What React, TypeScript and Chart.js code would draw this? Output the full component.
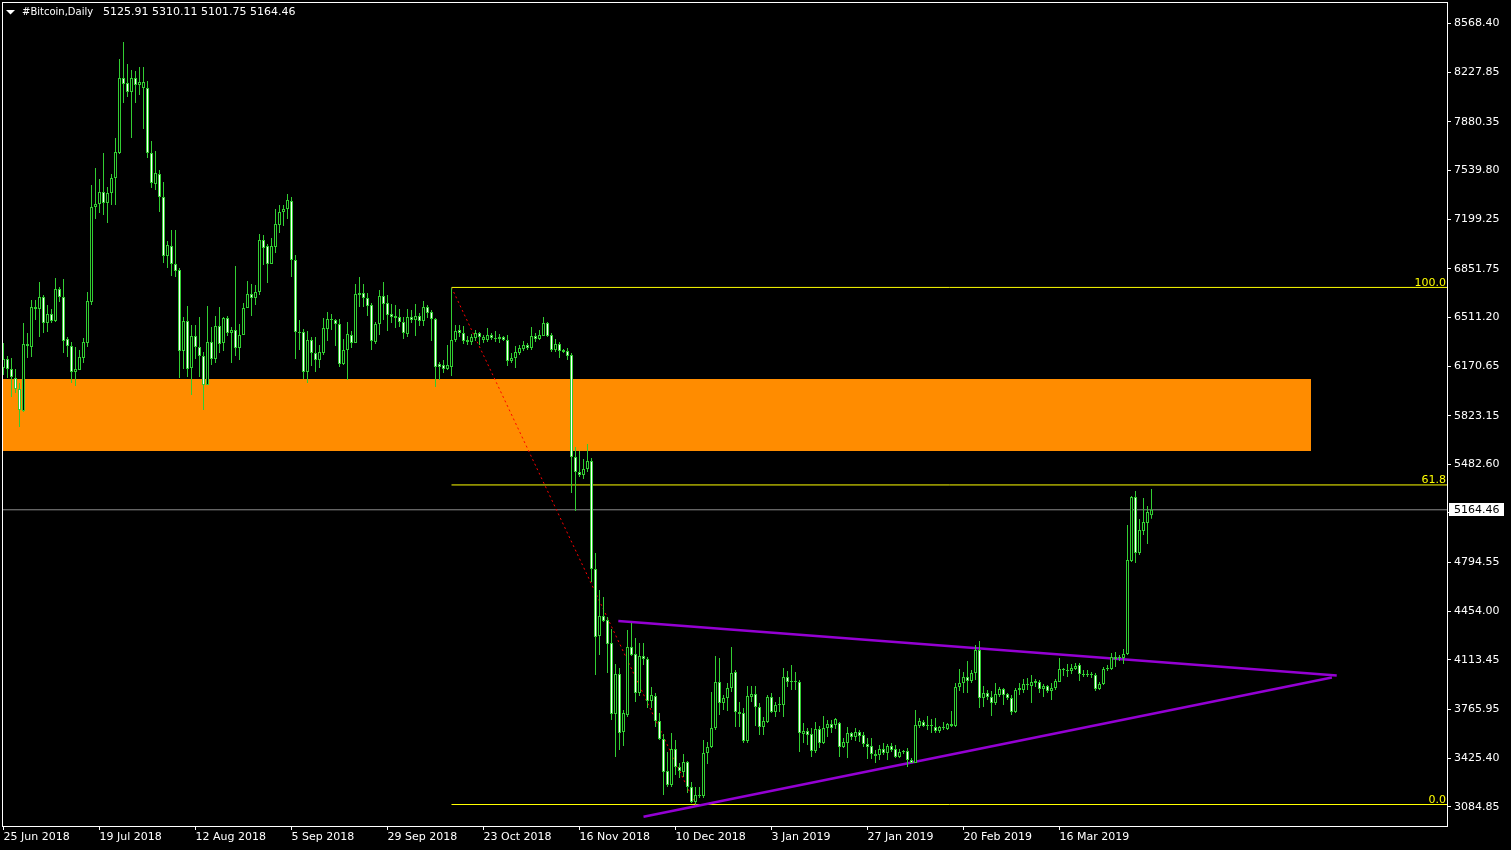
import React, { useEffect, useRef } from 'react';
import { Chart, registerables } from 'chart.js';

Chart.register(...registerables);

// ---- data: daily candles, day index 0 = 25 Jun 2018 ----
const symbolName = '#Bitcoin,Daily';

const opens = [
  6157, 6220, 6150, 6087, 6010, 5856, 6325, 6304, 6584, 6570, 6654, 6472,
  6535, 6486, 6710, 6654, 6360, 6311, 6129, 6143, 6227, 6332, 6619, 7284,
  7305, 7389, 7312, 7382, 7487, 7662, 8187, 8152, 8089, 8187, 8138, 8117,
  8117, 7662, 7445, 7515, 7354, 6941, 7011, 6885, 6843, 6276, 6486, 6157,
  6381, 6304, 6241, 6038, 6339, 6220, 6451, 6332, 6507, 6402, 6423, 6297,
  6388, 6577, 6675, 6647, 6689, 7053, 7011, 6885, 7004, 7158, 7249, 7270,
  7326, 6913, 6409, 6409, 6129, 6353, 6262, 6213, 6262, 6430, 6500, 6493,
  6465, 6185, 6283, 6388, 6332, 6682, 6682, 6647, 6598, 6339, 6465, 6661,
  6612, 6535, 6521, 6514, 6479, 6395, 6514, 6493, 6521, 6486, 6584, 6549,
  6500, 6185, 6178, 6150, 6164, 6353, 6423, 6402, 6353, 6339, 6367, 6402,
  6353, 6353, 6388, 6367, 6360, 6374, 6353, 6206, 6227, 6262, 6290, 6318,
  6297, 6381, 6360, 6381, 6472, 6388, 6283, 6325, 6283, 6276, 6248, 5534,
  5429, 5408, 5450, 5506, 4750, 4281, 4421, 4393, 4232, 3735, 4015, 3609,
  3728, 4204, 4155, 3882, 4141, 4120, 3826, 3861, 3686, 3560, 3336, 3238,
  3490, 3364, 3329, 3399, 3224, 3119, 3168, 3161, 3462, 3504, 3637, 3959,
  3812, 3847, 3917, 4029, 3749, 3742, 3546, 3854, 3875, 3784, 3644, 3679,
  3854, 3749, 3798, 3798, 3994, 3959, 3966, 3959, 3595, 3616, 3595, 3476,
  3630, 3532, 3637, 3665, 3658, 3672, 3504, 3532, 3602, 3574, 3609, 3588,
  3525, 3511, 3455, 3448, 3490, 3462, 3511, 3490, 3434, 3469, 3476, 3413,
  3392, 3651, 3679, 3651, 3658, 3644, 3616, 3644, 3630, 3651, 3651, 3924,
  3952, 3994, 3966, 4022, 4183, 3847, 3882, 3854, 3812, 3868, 3910, 3875,
  3847, 3749, 3903, 3903, 3945, 3931, 3952, 3959, 3910, 3931, 3896, 3917,
  3959, 4050, 4043, 4036, 4050, 4078, 4015, 4008, 4015, 4008, 3910, 3945,
  4050, 4050, 4134, 4127, 4127, 4155, 4806, 5254, 4862, 5016, 5072, 5125.91,
];

const highs = [
  6332, 6241, 6227, 6150, 6052, 6472, 6402, 6633, 6633, 6759, 6668, 6598,
  6570, 6787, 6724, 6780, 6374, 6339, 6304, 6283, 6367, 6689, 7438, 7557,
  7480, 7662, 7424, 7515, 7767, 8320, 8439, 8285, 8243, 8236, 8264, 8264,
  8166, 7746, 7676, 7543, 7459, 7046, 7123, 7123, 6857, 6514, 6591, 6458,
  6458, 6514, 6269, 6591, 6444, 6521, 6584, 6514, 6521, 6444, 6871, 6465,
  6612, 6766, 6745, 6738, 7095, 7088, 7025, 7067, 7270, 7298, 7298, 7375,
  7354, 6948, 6493, 6430, 6416, 6374, 6374, 6318, 6507, 6549, 6535, 6500,
  6500, 6360, 6479, 6416, 6745, 6794, 6745, 6682, 6612, 6479, 6703, 6759,
  6668, 6605, 6598, 6570, 6514, 6570, 6563, 6605, 6542, 6626, 6598, 6563,
  6507, 6199, 6213, 6318, 6721, 6458, 6458, 6451, 6381, 6395, 6423, 6409,
  6388, 6437, 6402, 6416, 6395, 6381, 6388, 6262, 6311, 6318, 6346, 6332,
  6444, 6402, 6423, 6514, 6479, 6402, 6360, 6339, 6290, 6297, 6262, 5604,
  5576, 5520, 5625, 5527, 4862, 4603, 4554, 4414, 4330, 4085, 4057, 3763,
  4323, 4372, 4267, 4232, 4232, 4134, 3924, 3882, 3742, 3595, 3469, 3602,
  3553, 3392, 3455, 3406, 3259, 3224, 3224, 3553, 3539, 3889, 4141, 4127,
  3868, 3952, 4204, 4043, 3819, 3777, 3931, 3931, 3931, 3812, 3714, 3868,
  3882, 3819, 3854, 4057, 4036, 4078, 4029, 3973, 3672, 3637, 3637, 3679,
  3651, 3721, 3693, 3693, 3707, 3679, 3567, 3644, 3609, 3637, 3623, 3609,
  3567, 3567, 3483, 3518, 3532, 3525, 3532, 3518, 3490, 3483, 3497, 3427,
  3763, 3707, 3693, 3721, 3700, 3707, 3651, 3679, 3672, 3756, 3952, 4050,
  4029, 4106, 4043, 4218, 4246, 3931, 3903, 3896, 3952, 3924, 3917, 3882,
  3868, 3917, 3952, 3980, 3987, 4008, 3980, 3973, 3945, 3938, 3952, 3980,
  4127, 4057, 4085, 4085, 4092, 4092, 4043, 4043, 4029, 4022, 3959, 4064,
  4078, 4162, 4169, 4148, 4190, 5058, 5261, 5296, 5100, 5247, 5191, 5310.11,
];

const lows = [
  6108, 6087, 5954, 5982, 5744, 5849, 6227, 6234, 6493, 6374, 6402, 6409,
  6472, 6479, 6619, 6262, 6234, 6052, 6031, 6143, 6192, 6304, 6598, 7200,
  7242, 7228, 7172, 7298, 7298, 7655, 8012, 8054, 7767, 8012, 8068, 7830,
  7627, 7417, 7403, 7249, 6892, 6857, 6801, 6794, 6087, 6150, 6094, 5968,
  6220, 6094, 5863, 6038, 6178, 6192, 6262, 6276, 6381, 6192, 6241, 6213,
  6388, 6577, 6521, 6598, 6668, 6878, 6752, 6885, 6962, 7102, 7151, 7200,
  6794, 6220, 6283, 6080, 6052, 6171, 6129, 6157, 6248, 6346, 6423, 6311,
  6164, 6178, 6073, 6297, 6332, 6584, 6584, 6521, 6283, 6325, 6388, 6493,
  6416, 6472, 6437, 6444, 6360, 6374, 6472, 6381, 6451, 6451, 6507, 6346,
  6024, 6073, 6122, 6143, 6101, 6339, 6374, 6325, 6318, 6318, 6346, 6318,
  6332, 6339, 6353, 6339, 6332, 6346, 6171, 6192, 6157, 6248, 6276, 6283,
  6283, 6339, 6353, 6381, 6374, 6269, 6269, 6227, 6262, 6213, 5282, 5156,
  5394, 5380, 5429, 4659, 4008, 4148, 4379, 4022, 3693, 3434, 3483, 3511,
  3714, 4141, 3819, 3861, 4078, 3777, 3777, 3644, 3553, 3168, 3224, 3224,
  3308, 3287, 3294, 3182, 3112, 3101.5, 3147, 3147, 3385, 3497, 3623, 3728,
  3763, 3756, 3889, 3644, 3644, 3532, 3532, 3819, 3651, 3588, 3588, 3672,
  3742, 3714, 3749, 3714, 3924, 3903, 3903, 3469, 3532, 3518, 3434, 3462,
  3497, 3525, 3574, 3602, 3630, 3434, 3497, 3427, 3553, 3546, 3539, 3504,
  3420, 3420, 3392, 3413, 3448, 3413, 3469, 3427, 3427, 3455, 3364, 3392,
  3392, 3637, 3644, 3623, 3602, 3602, 3602, 3623, 3623, 3644, 3644, 3896,
  3882, 3882, 3952, 3973, 3777, 3784, 3833, 3721, 3798, 3854, 3798, 3833,
  3728, 3742, 3868, 3882, 3903, 3812, 3924, 3882, 3854, 3882, 3833, 3903,
  3959, 4001, 3994, 4015, 4043, 3966, 3994, 3994, 3987, 3896, 3903, 3938,
  4036, 4043, 4064, 4106, 4085, 4148, 4799, 4792, 4848, 4988, 4925, 5101.75,
];

const closes = [
  6220, 6150, 6094, 6010, 5863, 6325, 6311, 6584, 6570, 6654, 6472, 6535,
  6486, 6710, 6654, 6346, 6311, 6129, 6150, 6234, 6339, 6626, 7284, 7305,
  7389, 7312, 7382, 7487, 7669, 8187, 8145, 8089, 8187, 8138, 8159, 8159,
  7662, 7452, 7522, 7354, 6941, 7018, 6885, 6836, 6276, 6486, 6150, 6381,
  6304, 6241, 6038, 6339, 6220, 6451, 6325, 6507, 6402, 6423, 6297, 6388,
  6577, 6675, 6647, 6689, 7053, 6997, 6885, 7011, 7165, 7249, 7270, 7333,
  6913, 6409, 6402, 6129, 6353, 6262, 6213, 6269, 6437, 6500, 6493, 6465,
  6185, 6283, 6395, 6332, 6675, 6668, 6647, 6591, 6346, 6465, 6661, 6605,
  6528, 6514, 6507, 6479, 6402, 6514, 6493, 6521, 6486, 6584, 6542, 6500,
  6164, 6164, 6150, 6178, 6353, 6416, 6402, 6346, 6339, 6374, 6402, 6374,
  6374, 6388, 6367, 6360, 6374, 6353, 6206, 6227, 6269, 6297, 6318, 6297,
  6381, 6360, 6388, 6472, 6381, 6283, 6325, 6276, 6269, 6241, 5534, 5429,
  5408, 5450, 5506, 4750, 4274, 4421, 4386, 4225, 3735, 4015, 3602, 3742,
  4204, 4148, 3882, 4141, 4120, 3826, 3868, 3686, 3560, 3329, 3238, 3490,
  3364, 3336, 3399, 3224, 3119, 3168, 3161, 3462, 3504, 3637, 3959, 3812,
  3847, 3917, 4022, 3749, 3735, 3546, 3861, 3875, 3784, 3644, 3686, 3854,
  3749, 3798, 3805, 3994, 3959, 3966, 3959, 3602, 3616, 3588, 3476, 3630,
  3532, 3637, 3665, 3637, 3700, 3504, 3539, 3602, 3574, 3609, 3581, 3525,
  3504, 3455, 3441, 3490, 3462, 3511, 3483, 3434, 3469, 3476, 3413, 3392,
  3658, 3686, 3651, 3658, 3651, 3616, 3644, 3637, 3665, 3665, 3924, 3952,
  3994, 3966, 4022, 4183, 3847, 3882, 3854, 3812, 3875, 3910, 3868, 3847,
  3749, 3903, 3917, 3945, 3938, 3959, 3966, 3910, 3931, 3896, 3917, 3966,
  4050, 4043, 4036, 4057, 4071, 4015, 4008, 4015, 4008, 3910, 3945, 4050,
  4057, 4134, 4120, 4134, 4155, 4813, 5254, 4862, 5023, 5079, 5149, 5164.46,
];

// x-axis ticks (day index) and their labels
const xTickDays = [0, 24, 48, 72, 96, 120, 144, 168, 192, 216, 240, 264];
const xTickLabels = [
  '25 Jun 2018', '19 Jul 2018', '12 Aug 2018', '5 Sep 2018', '29 Sep 2018', '23 Oct 2018',
  '16 Nov 2018', '10 Dec 2018', '3 Jan 2019', '27 Jan 2019', '20 Feb 2019', '16 Mar 2019',
];

// price-axis tick values
const yTickValues = [
  8568.40, 8227.85, 7880.35, 7539.80, 7199.25, 6851.75, 6511.20, 6170.65, 5823.15,
  5482.60, 5142.05, 4794.55, 4454.00, 4113.45, 3765.95, 3425.40, 3084.85,
];

// Fibonacci retracement anchors (day, price) and levels
const fibFromDay = 112;
const fibFromPrice = 6721;
const fibToDay = 173;
const fibToPrice = 3101.5;
const fibLevels = [100.0, 61.8, 0.0];

// supply/demand zone (days, prices)
const zoneDays = [-30, 326.9];
const zonePrices = [6080, 5576];

// triangle trendlines (day, price)
const upperTrendDays = [153.7, 333.3];
const upperTrendPrices = [4386, 4005];
const lowerTrendDays = [160, 332.1];
const lowerTrendPrices = [3016, 3990];

// ---- view ----
const X_MIN = -0.125;
const X_MAX = 360.875;
const Y_MIN = 2951;
const Y_MAX = 8712;

const GREEN = '#32CD32';
const FONT = '"DejaVu Sans", "Noto Sans", sans-serif';

export default function App() {
  const ref = useRef<HTMLCanvasElement | null>(null);

  useEffect(() => {
    document.body.style.margin = '0';
    document.body.style.background = '#000';
    const canvas = ref.current;
    if (!canvas) return;

    const n = closes.length;
    const last = n - 1;
    const wickData = opens.map((o, i) => ({
      x: i,
      y: [Math.min(lows[i], o, closes[i]), Math.max(highs[i], o, closes[i])],
    }));
    const bodyData = opens.map((o, i) => ({ x: i, y: [o, closes[i]] }));
    const bodyFill = opens.map((o, i) => (closes[i] >= o ? '#000000' : '#ffffff'));

    const fibPrice = (lvl: number) => fibToPrice + (fibFromPrice - fibToPrice) * (lvl / 100);

    const lineBase = {
      type: 'line' as const,
      pointRadius: 0,
      tension: 0,
      fill: false,
    };

    const datasets: any[] = [
      {
        ...lineBase,
        label: 'zone',
        order: 10,
        data: [
          { x: zoneDays[0], y: zonePrices[0] },
          { x: zoneDays[1], y: zonePrices[0] },
        ],
        borderColor: 'rgba(0,0,0,0)',
        borderWidth: 0,
        backgroundColor: '#FF8C00',
        fill: { value: zonePrices[1] },
      },
      {
        ...lineBase,
        label: 'last',
        order: 9,
        data: [
          { x: X_MIN, y: closes[last] },
          { x: X_MAX, y: closes[last] },
        ],
        borderColor: '#8c8c8c',
        borderWidth: 1,
      },
      ...fibLevels.map((lvl) => ({
        ...lineBase,
        label: 'fib ' + lvl,
        order: 8,
        data: [
          { x: fibFromDay, y: fibPrice(lvl) },
          { x: X_MAX, y: fibPrice(lvl) },
        ],
        borderColor: '#ffff00',
        borderWidth: 1,
      })),
      {
        ...lineBase,
        label: 'fib trend',
        order: 7,
        data: [
          { x: fibFromDay, y: fibFromPrice },
          { x: fibToDay, y: fibToPrice },
        ],
        borderColor: '#ff0000',
        borderWidth: 1,
        borderDash: [2, 3],
      },
      {
        ...lineBase,
        label: 'upper',
        order: 6,
        data: upperTrendDays.map((d, i) => ({ x: d, y: upperTrendPrices[i] })),
        borderColor: '#9400D3',
        borderWidth: 2.5,
      },
      {
        ...lineBase,
        label: 'lower',
        order: 6,
        data: lowerTrendDays.map((d, i) => ({ x: d, y: lowerTrendPrices[i] })),
        borderColor: '#9400D3',
        borderWidth: 2.5,
      },
      {
        type: 'bar',
        label: 'wicks',
        order: 2,
        data: wickData,
        backgroundColor: GREEN,
        borderWidth: 0,
        barThickness: 1,
        grouped: false,
        inflateAmount: 0,
      },
      {
        type: 'bar',
        label: 'bodies',
        order: 1,
        data: bodyData,
        backgroundColor: bodyFill,
        borderColor: GREEN,
        borderWidth: 1,
        borderSkipped: false,
        barThickness: 3,
        grouped: false,
        inflateAmount: 0,
        minBarLength: 1,
      },
    ];

    const overlay = {
      id: 'mtOverlay',
      beforeDraw(chart: any) {
        const c = chart.ctx;
        c.save();
        c.fillStyle = '#000';
        c.fillRect(0, 0, chart.width, chart.height);
        c.restore();
      },
      afterDraw(chart: any) {
        const c = chart.ctx;
        const a = chart.chartArea;
        const ys = chart.scales.y;
        c.save();
        // frame
        c.strokeStyle = '#ffffff';
        c.lineWidth = 1;
        c.strokeRect(a.left - 0.5, a.top - 0.5, a.right - a.left + 1, a.bottom - a.top + 1);

        // fib labels
        c.font = '11px ' + FONT;
        c.fillStyle = '#ffff00';
        c.textAlign = 'right';
        c.textBaseline = 'alphabetic';
        fibLevels.forEach((lvl) => {
          const y = ys.getPixelForValue(fibPrice(lvl));
          c.fillText(lvl.toFixed(1), a.right - 1, y - 1.5);
        });

        // current price label
        const py = ys.getPixelForValue(closes[last]);
        c.fillStyle = '#ffffff';
        c.fillRect(a.right + 2, Math.round(py) - 7, 55, 13);
        c.fillStyle = '#000000';
        c.textAlign = 'left';
        c.textBaseline = 'middle';
        c.fillText(closes[last].toFixed(2), a.right + 7, py + 0.5);

        // header
        c.fillStyle = '#ffffff';
        c.beginPath();
        c.moveTo(6, 10);
        c.lineTo(15, 10);
        c.lineTo(10.5, 14.5);
        c.closePath();
        c.fill();
        c.textBaseline = 'middle';
        c.font = '10px ' + FONT;
        c.fillText(symbolName, 22, 12.5);
        c.font = '11px ' + FONT;
        const hdr = [opens[last], highs[last], lows[last], closes[last]].map((v) => v.toFixed(2)).join(' ');
        c.fillText(hdr, 103, 12.5);
        c.restore();
      },
    };

    const chart = new Chart(canvas, {
      type: 'bar',
      data: { datasets },
      options: {
        responsive: false,
        maintainAspectRatio: false,
        animation: false,
        events: [],
        layout: { padding: { left: 3, top: 3, right: 0, bottom: 0 } },
        plugins: {
          legend: { display: false },
          tooltip: { enabled: false },
          title: { display: false },
        },
        scales: {
          x: {
            type: 'linear',
            min: X_MIN,
            max: X_MAX,
            bounds: 'data',
            offset: false,
            position: 'bottom',
            grid: {
              drawOnChartArea: false,
              drawTicks: true,
              tickLength: 4,
              color: '#ffffff',
              offset: false,
            },
            border: { display: false },
            ticks: {
              autoSkip: false,
              maxRotation: 0,
              minRotation: 0,
              align: 'start',
              padding: 1,
              color: '#ffffff',
              font: { family: FONT, size: 11 },
              callback: (_v: any, i: number) => xTickLabels[i],
            },
            afterBuildTicks: (s: any) => {
              s.ticks = xTickDays.map((v) => ({ value: v }));
            },
            afterFit: (s: any) => {
              s.height = 24;
              s.paddingLeft = 0;
              s.paddingRight = 0;
            },
          },
          y: {
            type: 'linear',
            min: Y_MIN,
            max: Y_MAX,
            bounds: 'data',
            position: 'right',
            grid: {
              drawOnChartArea: false,
              drawTicks: true,
              tickLength: 4,
              color: '#ffffff',
            },
            border: { display: false },
            ticks: {
              autoSkip: false,
              padding: 3,
              color: '#ffffff',
              font: { family: FONT, size: 11 },
              callback: (v: any) => Number(v).toFixed(2),
            },
            afterBuildTicks: (s: any) => {
              s.ticks = yTickValues.map((v) => ({ value: v }));
            },
            afterFit: (s: any) => {
              s.width = 64;
              s.paddingTop = 0;
              s.paddingBottom = 0;
            },
          },
        },
      } as any,
      plugins: [overlay],
    });

    return () => {
      chart.destroy();
    };
  }, []);

  return (
    <div style={{ position: 'fixed', left: 0, top: 0, width: 1511, height: 850, background: '#000' }}>
      <canvas ref={ref} width={1511} height={850} style={{ display: 'block', width: 1511, height: 850 }} />
    </div>
  );
}
